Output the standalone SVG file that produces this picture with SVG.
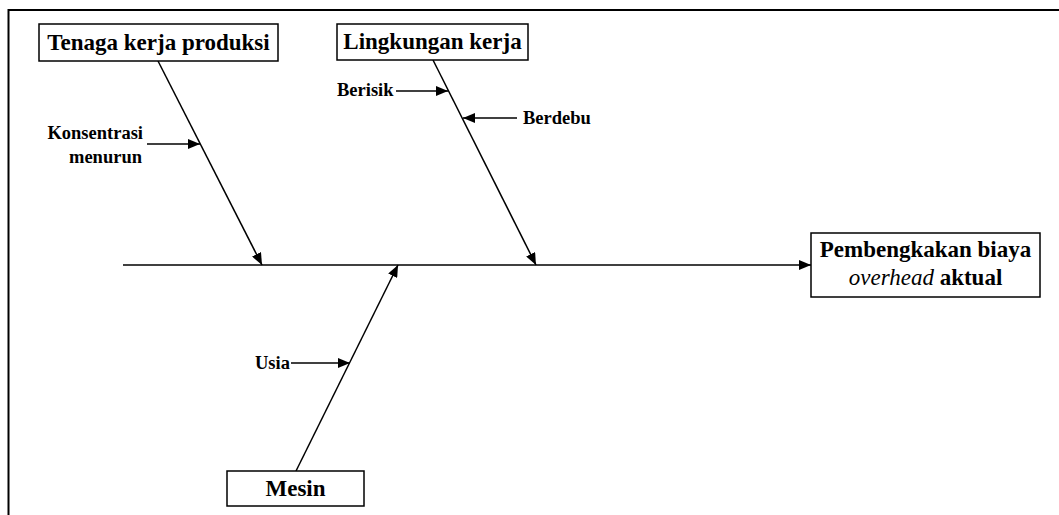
<svg xmlns="http://www.w3.org/2000/svg" width="1059" height="515" viewBox="0 0 1059 515">
<style>
.box{fill:#fff;stroke:#000;stroke-width:1.5}
.bl{font-family:"Liberation Serif","Times New Roman",serif;font-weight:bold;font-size:23px;fill:#000}
.sl{font-family:"Liberation Serif","Times New Roman",serif;font-weight:bold;font-size:18.5px;fill:#000}
.ln{stroke:#000;stroke-width:1.5;fill:none}
</style>
<defs>
<marker id="ah" markerUnits="userSpaceOnUse" markerWidth="12" markerHeight="10" refX="12" refY="5" orient="auto">
<path d="M0,0 L12,5 L0,10 Z" fill="#000"/>
</marker>
</defs>
<rect width="1059" height="515" fill="#fff"/>
<path d="M8.5,515 L8.5,10 L1059,10" fill="none" stroke="#000" stroke-width="2"/>
<g id="connectors">
<line class="ln" x1="123" y1="265" x2="811" y2="265" marker-end="url(#ah)"/>
<line class="ln" x1="158" y1="61" x2="262" y2="265" marker-end="url(#ah)"/>
<line class="ln" x1="433" y1="60" x2="536" y2="265" marker-end="url(#ah)"/>
<line class="ln" x1="296" y1="471" x2="398" y2="265" marker-end="url(#ah)"/>
<line class="ln" x1="147" y1="144" x2="200" y2="144" marker-end="url(#ah)"/>
<line class="ln" x1="396" y1="91" x2="448" y2="91" marker-end="url(#ah)"/>
<line class="ln" x1="517" y1="118" x2="463" y2="118" marker-end="url(#ah)"/>
<line class="ln" x1="291" y1="363" x2="350" y2="363" marker-end="url(#ah)"/>
</g>
<g id="tenaga">
<rect class="box" x="39" y="24" width="239" height="37"/>
<text class="bl" x="158.5" y="50" text-anchor="middle">Tenaga kerja produksi</text>
</g>
<g id="lingkungan">
<rect class="box" x="337" y="24" width="191" height="36"/>
<text class="bl" x="432.5" y="49" text-anchor="middle">Lingkungan kerja</text>
</g>
<g id="mesin">
<rect class="box" x="227" y="471" width="137" height="35"/>
<text class="bl" x="295.5" y="496" text-anchor="middle">Mesin</text>
</g>
<g id="effect">
<rect class="box" x="811" y="233" width="229" height="64"/>
<text class="bl" x="925.5" y="257" text-anchor="middle">Pembengkakan biaya</text>
<text class="bl" x="925.5" y="285" text-anchor="middle"><tspan font-style="italic" font-weight="normal">overhead</tspan> aktual</text>
</g>
<g id="konsentrasi">
<text class="sl" x="143" y="139" text-anchor="end">Konsentrasi</text>
<text class="sl" x="142" y="163" text-anchor="end">menurun</text>
</g>
<g id="berisik">
<text class="sl" x="337" y="96">Berisik</text>
</g>
<g id="berdebu">
<text class="sl" x="523" y="124">Berdebu</text>
</g>
<g id="usia">
<text class="sl" x="255" y="369">Usia</text>
</g>
</svg>
